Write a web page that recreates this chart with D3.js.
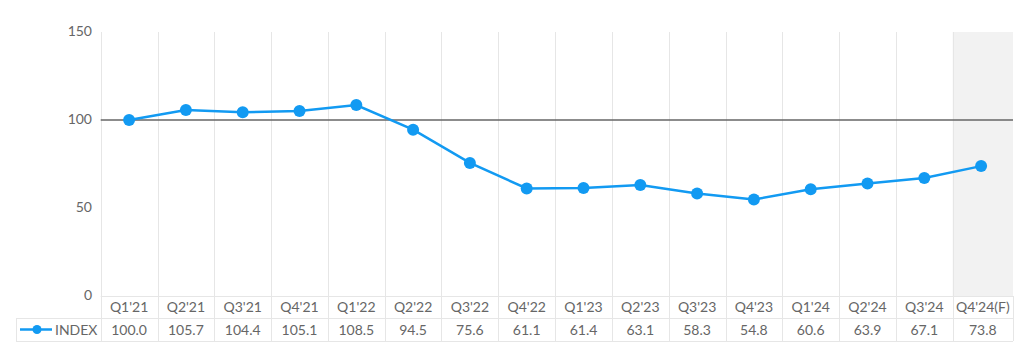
<!DOCTYPE html>
<html><head><meta charset="utf-8">
<script src="https://cdn.jsdelivr.net/npm/d3@7"></script>
<style>body{margin:0;background:#fff}svg{display:block}text{font-family:Lato,"Open Sans",sans-serif;fill:#666}</style>
</head><body><svg id="c" width="1024" height="360"></svg>
<script>
const categories = ["Q1'21","Q2'21","Q3'21","Q4'21","Q1'22","Q2'22","Q3'22","Q4'22","Q1'23","Q2'23","Q3'23","Q4'23","Q1'24","Q2'24","Q3'24","Q4'24(F)"];
const values = [100.0,105.7,104.4,105.1,108.5,94.5,75.6,61.1,61.4,63.1,58.3,54.8,60.6,63.9,67.1,73.8];
const yTicks = [0,50,100,150];
const baseline = 100;
const seriesName = "INDEX";
const forecastIndex = 15;

(function(){
const svg = d3.select("#c");
const pL = 100.7, pR = 1009.5, pT = 32, pB = 296, tableRight = 1013;
const row1 = 318, row2 = 341, tableLeft = 16;
const x = d3.scaleBand().domain(categories).range([pL, pR]);
const y = d3.scaleLinear().domain([0,150]).range([pB, pT]);
const colLeft = i => x(categories[i]);
const colRight = i => i === categories.length-1 ? tableRight : x(categories[i]) + x.bandwidth();

svg.append("rect").attr("x", colLeft(forecastIndex)).attr("y", pT)
  .attr("width", colRight(forecastIndex)-colLeft(forecastIndex)).attr("height", pB-pT).attr("fill","#f2f2f2");

const g = svg.append("g").attr("stroke","#e6e6e6").attr("stroke-width",1);
categories.forEach((c,i)=>{
  g.append("line").attr("x1",Math.round(colLeft(i))+0.5).attr("x2",Math.round(colLeft(i))+0.5).attr("y1",pT).attr("y2",row2);
});
g.append("line").attr("x1",tableRight+0.5).attr("x2",tableRight+0.5).attr("y1",pB).attr("y2",row2);
g.append("line").attr("x1",pL).attr("x2",tableRight).attr("y1",pB+0.5).attr("y2",pB+0.5);
g.append("line").attr("x1",tableLeft).attr("x2",tableRight).attr("y1",row1+0.5).attr("y2",row1+0.5);
g.append("line").attr("x1",tableLeft).attr("x2",tableRight).attr("y1",row2+0.5).attr("y2",row2+0.5);
g.append("line").attr("x1",tableLeft+0.5).attr("x2",tableLeft+0.5).attr("y1",row1).attr("y2",row2);

const yAxis = d3.axisLeft(y).tickValues(yTicks).tickSize(0).tickPadding(0);
const ya = svg.append("g").attr("transform",`translate(92,0)`).call(yAxis);
ya.select(".domain").remove();
ya.selectAll("text").attr("font-size",14).style("font-family","Lato").attr("fill","#666").attr("dy","0.25em");

svg.append("line").attr("x1",pL).attr("x2",tableRight).attr("y1",y(baseline)).attr("y2",y(baseline))
  .attr("stroke","#666").attr("stroke-width",1.5);

const cx = c => x(c) + x.bandwidth()/2;
svg.append("path").datum(values).attr("fill","none").attr("stroke","#129af2").attr("stroke-width",2.5)
  .attr("d", d3.line().x((d,i)=>cx(categories[i])).y(d=>y(d)));
svg.selectAll("circle.p").data(values).join("circle").attr("class","p")
  .attr("cx",(d,i)=>cx(categories[i])).attr("cy",d=>y(d)).attr("r",6).attr("fill","#129af2");

svg.selectAll("text.cat").data(categories).join("text").attr("class","cat")
  .attr("x",(d,i)=>(colLeft(i)+colRight(i))/2).attr("y",(pB+row1)/2).attr("dy","0.36em")
  .attr("text-anchor","middle").attr("font-size",14).text(d=>d);
svg.selectAll("text.val").data(values).join("text").attr("class","val")
  .attr("x",(d,i)=>(colLeft(i)+colRight(i))/2).attr("y",(row1+row2)/2).attr("dy","0.36em")
  .attr("text-anchor","middle").attr("font-size",14).text(d=>d3.format(".1f")(d));

svg.append("line").attr("x1",20).attr("x2",52).attr("y1",(row1+row2)/2).attr("y2",(row1+row2)/2)
  .attr("stroke","#129af2").attr("stroke-width",2.5);
svg.append("circle").attr("cx",37).attr("cy",(row1+row2)/2).attr("r",4.5).attr("fill","#129af2");
svg.append("text").attr("x",55).attr("y",(row1+row2)/2).attr("dy","0.36em").attr("font-size",14).text(seriesName);
})();
</script></body></html>
